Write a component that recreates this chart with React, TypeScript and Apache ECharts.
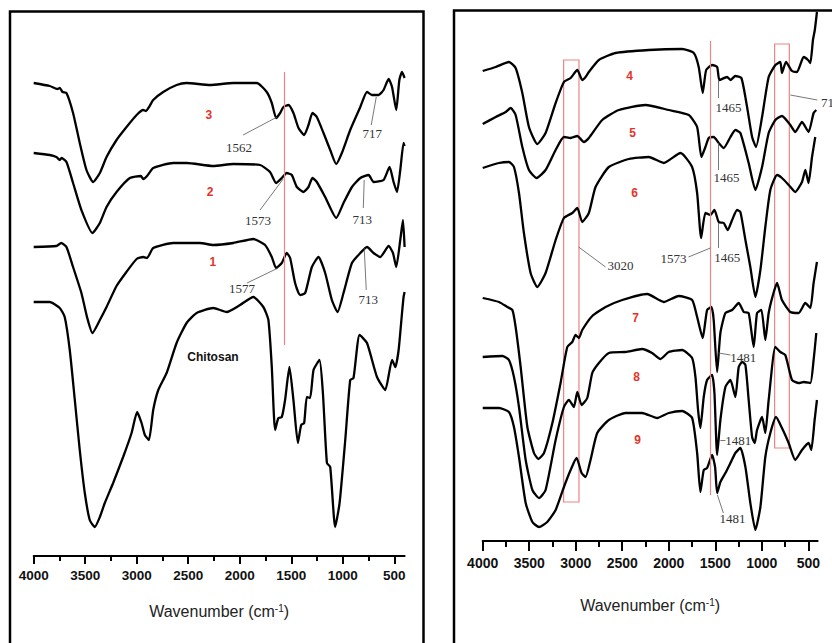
import React, { useEffect, useRef } from "react";
import * as echarts from "echarts";

// ---- axis ticks (wavenumber, cm-1) ----
const majorTicks = [500, 1000, 1500, 2000, 2500, 3000, 3500, 4000];
const minorTicks = [750, 1250, 1750, 2250, 2750, 3250, 3750];

// ---- left panel spectra: [wavenumber, offset transmittance (a.u.)] ----
const chitosan = [[4000,254],[3844,254],[3747,248],[3699,239],[3650,206],[3601,156],[3553,106],[3504,63],[3456,36],[3407,29],[3358,39],[3310,53],[3229,73],[3132,99],[3050,123],[2996,144],[2953,133],[2921,121],[2882,116],[2840,146],[2791,166],[2710,183],[2613,213],[2516,233],[2418,243],[2257,248],[2127,244],[1997,251],[1868,259],[1771,249],[1722,236],[1689,189],[1657,126],[1625,138],[1592,139],[1560,156],[1518,189],[1479,156],[1436,113],[1404,131],[1375,133],[1349,159],[1317,158],[1284,186],[1226,196],[1193,163],[1154,93],[1122,89],[1074,29],[1031,53],[976,116],[928,176],[896,178],[837,221],[765,213],[668,179],[588,166],[522,196],[490,189],[458,206],[425,243],[410,259],[400,264]];
const sample1 = [[4000,309],[3780,310],[3733,313],[3682,309],[3618,289],[3537,263],[3480,238],[3430,223],[3358,236],[3293,249],[3196,270],[3100,284],[3001,297],[2937,299],[2900,298],[2840,308],[2646,313],[2386,313],[2257,311],[2062,313],[1868,317],[1754,311],[1689,299],[1647,288],[1592,293],[1544,303],[1511,298],[1463,273],[1414,261],[1365,263],[1300,289],[1236,299],[1171,283],[1106,256],[1051,244],[993,263],[911,293],[830,303],[765,309],[701,303],[636,299],[555,310],[513,303],[481,289],[442,316],[416,336],[400,309]];
const sample2 = [[4000,403],[3844,401],[3780,399],[3747,396],[3730,398],[3682,394],[3618,373],[3537,346],[3430,323],[3358,333],[3293,349],[3196,364],[3067,378],[2960,380],[2937,377],[2900,380],[2840,388],[2646,393],[2516,393],[2257,390],[2062,392],[1803,391],[1706,384],[1647,373],[1592,378],[1544,383],[1495,381],[1446,369],[1382,364],[1333,369],[1294,378],[1252,374],[1171,359],[1064,338],[993,353],[911,369],[830,378],[749,381],[701,374],[604,376],[546,389],[507,374],[474,364],[442,386],[410,413],[400,410]];
const sample3 = [[4000,473],[3844,470],[3770,467],[3747,468],[3720,464],[3682,463],[3618,443],[3553,413],[3488,386],[3423,374],[3358,383],[3293,399],[3196,416],[3099,429],[3001,441],[2937,446],[2910,445],[2880,449],[2840,456],[2743,464],[2613,471],[2516,473],[2289,471],[2062,473],[1835,473],[1738,464],[1689,453],[1647,438],[1608,443],[1576,449],[1527,451],[1479,443],[1430,428],[1375,421],[1333,431],[1294,443],[1252,439],[1187,423],[1122,406],[1064,392],[1009,403],[928,426],[830,449],[765,464],[717,461],[653,461],[604,466],[555,477],[522,469],[481,446],[451,476],[425,484],[400,478]];

// ---- right panel spectra ----
const sample4 = [[4000,470],[3860,474],[3718,479],[3646,473],[3574,448],[3503,414],[3413,397],[3324,408],[3216,438],[3127,459],[3055,463],[2983,471],[2930,461],[2894,464],[2859,469],[2751,481],[2572,488],[2215,491],[1856,492],[1731,488],[1678,474],[1635,448],[1598,471],[1534,476],[1480,474],[1455,461],[1373,464],[1337,461],[1284,465],[1219,463],[1158,434],[1104,404],[1062,394],[997,424],[926,464],[854,476],[801,479],[783,468],[740,479],[675,470],[622,469],[550,484],[503,481],[478,478],[450,501],[430,511],[407,529]];
const sample5 = [[4000,417],[3860,424],[3753,429],[3700,433],[3646,426],[3574,394],[3503,371],[3420,363],[3324,371],[3216,391],[3127,404],[3055,403],[2983,405],[2912,399],[2859,403],[2715,421],[2536,431],[2250,436],[2000,431],[1785,426],[1695,414],[1649,384],[1606,394],[1570,403],[1517,404],[1463,398],[1409,393],[1337,404],[1284,411],[1230,408],[1141,378],[1069,351],[997,374],[926,408],[854,421],[783,425],[693,416],[640,409],[568,419],[497,409],[443,428],[414,431]];
const sample6 = [[4000,373],[3825,378],[3718,379],[3664,374],[3610,348],[3557,308],[3485,268],[3413,254],[3324,268],[3216,301],[3127,323],[3037,328],[2983,333],[2930,319],[2859,328],[2787,354],[2644,374],[2429,382],[2215,384],[2054,378],[1874,388],[1749,374],[1695,348],[1652,303],[1606,328],[1552,326],[1509,331],[1463,319],[1409,318],[1366,311],[1319,321],[1266,331],[1230,329],[1176,301],[1123,274],[1069,244],[1015,271],[962,314],[908,351],[836,366],[783,363],[711,356],[640,349],[568,359],[532,371],[497,358],[460,384],[425,404]];
const sample7 = [[4000,243],[3825,239],[3735,234],[3681,231],[3646,214],[3592,174],[3520,114],[3449,88],[3402,82],[3341,88],[3251,118],[3163,158],[3091,194],[3037,199],[3002,206],[2966,203],[2930,211],[2822,225],[2679,234],[2500,241],[2232,247],[2054,239],[1893,245],[1749,241],[1695,224],[1635,203],[1588,231],[1541,234],[1517,221],[1480,169],[1445,208],[1391,228],[1319,231],[1248,238],[1194,229],[1141,228],[1087,194],[1051,228],[1004,231],[962,201],[926,228],[880,246],[836,258],[783,241],[693,229],[604,228],[532,238],[478,233],[443,258],[407,279]];
const sample8 = [[4000,184],[3789,185],[3718,181],[3664,164],[3610,134],[3538,81],[3466,51],[3395,43],[3324,51],[3216,101],[3127,134],[3073,141],[3020,134],[2983,149],[2937,136],[2876,143],[2822,168],[2751,178],[2644,188],[2465,189],[2286,192],[2179,188],[2089,182],[2000,189],[1856,191],[1749,183],[1713,164],[1685,131],[1660,113],[1624,144],[1588,161],[1534,166],[1509,148],[1480,86],[1445,121],[1391,154],[1337,161],[1284,144],[1248,174],[1212,179],[1176,176],[1141,141],[1104,104],[1076,98],[1051,111],[997,124],[962,108],[926,141],[854,194],[801,189],[747,186],[675,161],[604,158],[550,159],[478,158],[443,181],[414,208]];
const sample9 = [[4000,133],[3825,133],[3718,129],[3664,114],[3610,84],[3538,38],[3466,19],[3395,14],[3306,19],[3216,31],[3127,54],[3055,71],[2991,83],[2937,68],[2894,64],[2841,81],[2769,108],[2644,121],[2465,128],[2286,128],[2125,123],[2000,128],[1856,130],[1749,123],[1695,88],[1660,49],[1624,71],[1588,73],[1534,86],[1502,74],[1480,48],[1445,59],[1391,68],[1337,78],[1284,88],[1230,93],[1176,74],[1123,38],[1069,11],[1015,34],[962,84],[908,108],[847,124],[783,113],[711,98],[640,81],[568,91],[497,98],[468,91],[432,121],[407,141]];

// ---- annotations (data coordinates) ----
const leftRedLine = [[1570, 484], [1570, 211]];
const leftLeaders = [
  [[1968, 421], [1637, 439]],
  [[1803, 346], [1579, 377]],
  [[1929, 273], [1628, 288]],
  [[724, 431], [675, 459]],
  [[801, 348], [792, 376]],
  [[772, 266], [792, 308]],
];
const leftSerifLabels = [
  { text: "1562", w: 2007, v: 409 },
  { text: "1573", w: 1822, v: 336 },
  { text: "1577", w: 1978, v: 268 },
  { text: "717", w: 714, v: 423 },
  { text: "713", w: 811, v: 337 },
  { text: "713", w: 753, v: 257 },
];
const leftSampleLabels = [
  { text: "3", w: 2299, v: 441 },
  { text: "2", w: 2289, v: 364 },
  { text: "1", w: 2260, v: 294 },
];
const leftNameLabel = { text: "Chitosan", w: 2260, v: 199 };

const rightRedLine = [[1557, 500], [1557, 46]];
const rightBoxes = [
  [[3130, 481], [2965, 39]],
  [[862, 497], [704, 93]],
];
const rightLeaders = [
  [[1466, 461], [1466, 443]],
  [[1466, 398], [1466, 371]],
  [[1466, 318], [1466, 293]],
  [[1788, 284], [1552, 293]],
  [[2969, 294], [2679, 274]],
  [[693, 446], [403, 441]],
  [[1466, 188], [1337, 186]],
  [[1445, 101], [1391, 101]],
  [[1477, 46], [1413, 28]],
];
const rightSerifLabels = [
  { text: "1465", w: 1359, v: 434 },
  { text: "1465", w: 1380, v: 364 },
  { text: "1465", w: 1370, v: 284 },
  { text: "1573", w: 1949, v: 283 },
  { text: "3020", w: 2518, v: 276 },
  { text: "1481", w: 1198, v: 184 },
  { text: "1481", w: 1252, v: 101 },
  { text: "1481", w: 1316, v: 23 },
];
const rightEdgeLabel = { text: "717", w: 400, v: 439 };
const rightSampleLabels = [
  { text: "4", w: 2422, v: 465 },
  { text: "5", w: 2390, v: 408 },
  { text: "6", w: 2368, v: 348 },
  { text: "7", w: 2357, v: 223 },
  { text: "8", w: 2347, v: 164 },
  { text: "9", w: 2336, v: 101 },
];

const SANS = "'Liberation Sans',Arial,sans-serif";
const SERIF = "'Liberation Serif','Times New Roman',serif";
const RED = "#ec8585";
const RED_TEXT = "#e63329";

function majorAxis(grid: number, margin: number, fontSize: number, tickLen: number, nameGap: number) {
  return {
    type: "value", gridIndex: grid, min: 400, max: 4000, inverse: true, position: "bottom",
    axisLine: { show: true, onZero: false, lineStyle: { color: "#000", width: 2 } },
    axisTick: { show: true, customValues: majorTicks, length: tickLen, lineStyle: { color: "#000", width: 2 } },
    axisLabel: {
      show: true, customValues: majorTicks, margin, fontSize, fontFamily: SANS, fontWeight: "bold", color: "#111",
      formatter: (v: number) => String(v),
    },
    splitLine: { show: false },
    name: "Wavenumber (cm{sup|-1})",
    nameLocation: "middle",
    nameGap,
    nameTextStyle: {
      fontFamily: SANS, fontSize: 16, color: "#222",
      rich: { sup: { fontFamily: SANS, fontSize: 10, color: "#222", verticalAlign: "top", lineHeight: 12 } },
    },
  };
}
function minorAxis(grid: number, tickLen: number) {
  return {
    type: "value", gridIndex: grid, min: 400, max: 4000, inverse: true, position: "bottom",
    axisLine: { show: false, onZero: false },
    axisTick: { show: true, customValues: minorTicks, length: tickLen, lineStyle: { color: "#000", width: 2 } },
    axisLabel: { show: false },
    splitLine: { show: false },
  };
}

function curve(name: string, data: number[][], xi: number, yi: number, extra: any = {}) {
  return {
    name, type: "line", xAxisIndex: xi, yAxisIndex: yi, data,
    showSymbol: false, smooth: 0.18, silent: true,
    lineStyle: { color: "#000", width: 2.3 },
    ...extra,
  };
}

function pointLabels(items: { text: string; w: number; v: number }[], style: any) {
  return items.map((it) => ({
    coord: [it.w, it.v], name: it.text,
    label: { show: true, position: "inside", formatter: "{b}", ...style },
  }));
}

export default function App() {
  const ref = useRef<HTMLDivElement>(null);
  useEffect(() => {
    document.body.style.margin = "0";
    const chart = echarts.init(ref.current!, null, { renderer: "svg" });
    const serifStyle = { fontFamily: SERIF, fontSize: 13, color: "#333" };
    const redStyle = { fontFamily: SANS, fontSize: 12, fontWeight: "bold", color: RED_TEXT };
    const leaderStyle = { color: "#555", width: 0.8, type: "solid" };

    const option: any = {
      animation: false,
      backgroundColor: "#fff",
      grid: [
        { left: 33.7, right: 427.4, top: 12, bottom: 87 },
        { left: 482.7, right: 14.4, top: 10, bottom: 102 },
      ],
      xAxis: [majorAxis(0, 12, 13.5, 8, 47), minorAxis(0, 5), majorAxis(1, 15, 14, 10, 56), minorAxis(1, 6)],
      yAxis: [
        { type: "value", gridIndex: 0, min: 0, max: 544, show: false },
        { type: "value", gridIndex: 1, min: 0, max: 531, show: false },
      ],
      graphic: [
        { type: "rect", shape: { x: 10, y: 11.5, width: 413.5, height: 700 }, style: { fill: "none", stroke: "#000", lineWidth: 2.5 }, silent: true },
        { type: "rect", shape: { x: 454, y: 10.5, width: 500, height: 700 }, style: { fill: "none", stroke: "#000", lineWidth: 2.5 }, silent: true },
      ],
      series: [
        curve("Chitosan", chitosan, 0, 0),
        curve("1", sample1, 0, 0),
        curve("2", sample2, 0, 0),
        curve("3", sample3, 0, 0, {
          markLine: {
            silent: true, symbol: ["none", "none"], label: { show: false },
            data: [
              [{ coord: leftRedLine[0], lineStyle: { color: RED, width: 1.2, type: "solid" } }, { coord: leftRedLine[1] }],
              ...leftLeaders.map((l) => [{ coord: l[0], lineStyle: leaderStyle }, { coord: l[1] }]),
            ],
          },
          markPoint: {
            silent: true, symbol: "rect", symbolSize: 1, itemStyle: { color: "rgba(0,0,0,0)" },
            data: [
              ...pointLabels(leftSerifLabels, serifStyle),
              ...pointLabels(leftSampleLabels, redStyle),
              ...pointLabels([leftNameLabel], { fontFamily: SANS, fontSize: 12, fontWeight: "bold", color: "#111" }),
            ],
          },
        }),
        curve("4", sample4, 2, 1, {
          markLine: {
            silent: true, symbol: ["none", "none"], label: { show: false },
            data: [
              [{ coord: rightRedLine[0], lineStyle: { color: RED, width: 1.2, type: "solid" } }, { coord: rightRedLine[1] }],
              ...rightLeaders.map((l) => [{ coord: l[0], lineStyle: leaderStyle }, { coord: l[1] }]),
            ],
          },
          markArea: {
            silent: true,
            itemStyle: { color: "rgba(0,0,0,0)", borderColor: RED, borderWidth: 1.2 },
            data: rightBoxes.map((b) => [{ coord: b[0] }, { coord: b[1] }]),
          },
          markPoint: {
            silent: true, symbol: "rect", symbolSize: 1, itemStyle: { color: "rgba(0,0,0,0)" },
            data: [
              ...pointLabels(rightSerifLabels, serifStyle),
              ...pointLabels(rightSampleLabels, redStyle),
              {
                coord: [rightEdgeLabel.w, rightEdgeLabel.v], name: rightEdgeLabel.text,
                label: { show: true, position: "right", distance: 3, formatter: "{b}", ...serifStyle },
              },
            ],
          },
        }),
        curve("5", sample5, 2, 1),
        curve("6", sample6, 2, 1),
        curve("7", sample7, 2, 1),
        curve("8", sample8, 2, 1),
        curve("9", sample9, 2, 1),
      ],
    };
    chart.setOption(option);
    return () => chart.dispose();
  }, []);
  return <div ref={ref} style={{ position: "fixed", left: 0, top: 0, width: 832, height: 643, background: "#fff" }} />;
}
